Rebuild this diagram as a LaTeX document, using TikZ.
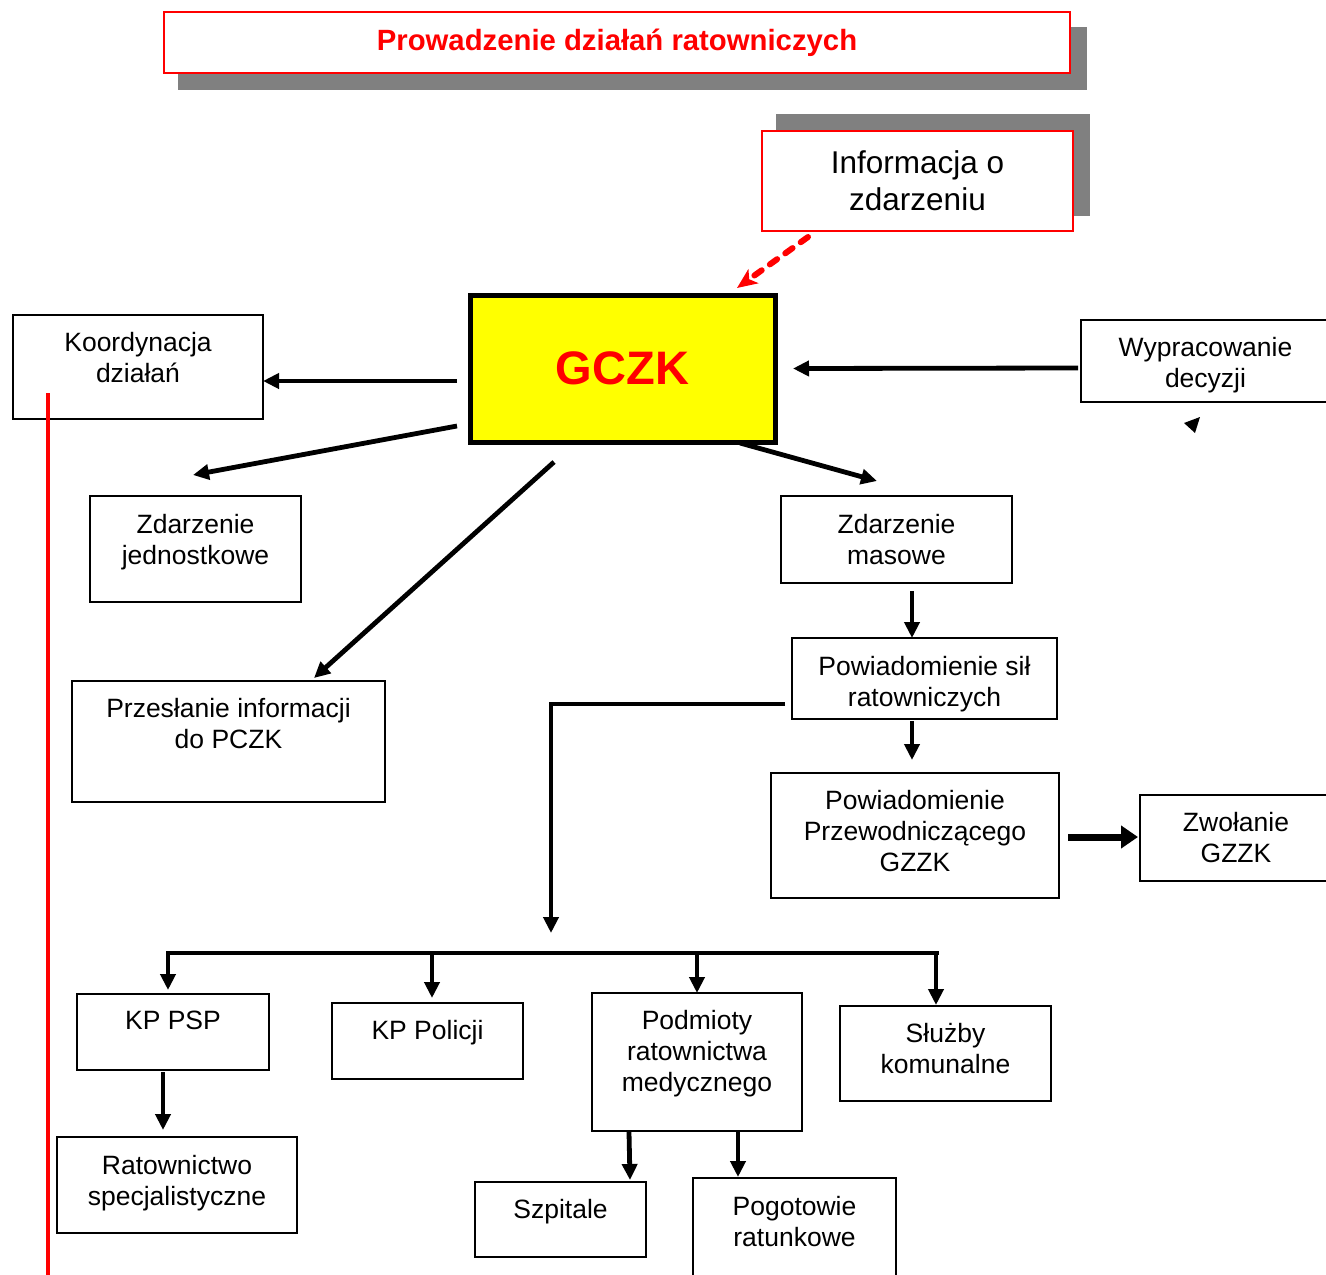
\documentclass[tikz,border=0pt]{standalone}
\usepackage{fontspec}
\setmainfont{Liberation Sans}
\usetikzlibrary{arrows.meta,calc}
\definecolor{alarmred}{HTML}{FF0000}
\definecolor{shadowgray}{HTML}{808080}
\definecolor{gczkyellow}{HTML}{FFFF00}

\begin{document}
\begin{tikzpicture}[x=1pt,y=-1pt,>={Triangle[length=16pt,width=15pt]},
  font=\fontsize{26.5}{31}\selectfont,
  box/.style={draw,line width=2.5pt,inner sep=0pt,outer sep=0pt},
  boxtext/.style={align=center,inner sep=0pt,anchor=north},
  redbox/.style={draw=alarmred,line width=2.5pt,fill=white,inner sep=0pt,outer sep=0pt},
  link/.style={->,line width=4.8pt}]
  \useasboundingbox (0,0) rectangle (1326,1275);
  \clip (0,0) rectangle (1326,1275);
  % shadows
  \fill[shadowgray] (178,27) rectangle (1087,90);
  \fill[shadowgray] (776,114) rectangle (1090,216);
  \node[redbox,minimum width=906pt,minimum height=61pt,text=alarmred,
    font=\fontsize{29.3}{33}\selectfont\bfseries] (title) at (617,42.5)
    {Prowadzenie działań ratowniczych};
  \node[redbox,minimum width=311pt,minimum height=100pt,align=center,
    font=\fontsize{31.5}{37}\selectfont] (info) at (917.5,181)
    {Informacja o\\zdarzeniu};
  \node[draw,line width=5pt,fill=gczkyellow,minimum width=305pt,minimum height=147pt,
    inner sep=0pt,outer sep=0pt,text=alarmred,font=\fontsize{47}{50}\selectfont\bfseries]
    (gczk) at (622.5,368.5) {GCZK};
  % plain boxes: name/left/top/right/bottom/text top/text
  \foreach \n/\xa/\ya/\xb/\yb/\ty/\lbl in {
    koord/13/315/263/419/332/{Koordynacja\\działań},
    wyprac/1081/320/1330/402/337/{Wypracowanie\\decyzji},
    jedn/90/496/301/602/514/{Zdarzenie\\jednostkowe},
    przes/72/681/385/802/698/{Przesłanie informacji\\do PCZK},
    masowe/781/496/1012/583/514/{Zdarzenie\\masowe},
    powsil/792/638/1057/719/656/{Powiadomienie sił\\ratowniczych},
    powprz/771/773/1059/898/790/{Powiadomienie\\Przewodniczącego\\GZZK},
    zwol/1140/795/1332/881/812/{Zwołanie\\GZZK},
    kppsp/77/994/269/1070/1011/{KP PSP},
    kppol/332/1003/523/1079/1020/{KP Policji},
    podm/592/993/802/1131/1010/{Podmioty\\ratownictwa\\medycznego},
    sluzby/840/1006/1051/1101/1023/{Służby\\komunalne},
    ratspec/57/1137/297/1233/1155/{Ratownictwo\\specjalistyczne},
    szpit/475/1182/646/1257/1199/{Szpitale},
    pogot/693/1178/896/1290/1196/{Pogotowie\\ratunkowe}}{
    \node[box,minimum width={(\xb-\xa)*1pt},minimum height={(\yb-\ya)*1pt}]
      (\n) at ({(\xa+\xb)/2},{(\ya+\yb)/2}) {};
    \node[boxtext] (\n-t) at ({(\xa+\xb)/2},\ty) {\lbl};
  }
  % connectors
  \draw[alarmred,line width=6pt,line cap=round,dash pattern=on 9pt off 10pt,
    -{Stealth[length=20pt,width=17pt,inset=5pt,line cap=butt]}]
    ($(info.south)+(-109.5,6)$) -- ($(gczk.north)+(114.5,-7)$);
  \draw[link] ($(gczk.west)+(-13,12.5)$) -- ($(koord.east)+(0,14)$);
  \draw[link] ($(wyprac.west)+(-3,7)$) -- ($(gczk.east)+(18,0)$);
  \draw[link] ($(gczk.west)+(-13,57.5)$) -- ($(jedn.north)+(-2.5,-21)$);
  \draw[link] ($(gczk.south)+(-68.5,20)$) -- ($(przes.north)+(85.5,-3)$);
  \draw[link] ($(gczk.south east)+(-35,1)$) -- ($(masowe.north)+(-19.5,-15)$);
  \draw[link] ($(masowe.south)+(15.5,8)$) -- ($(powsil.north)+(-12.5,0)$);
  \draw[link] ($(powsil.south)+(-12.5,2)$) -- ($(powprz.north)+(-3,-13)$);
  \draw[->,line width=7pt,>={Triangle[length=17pt,width=22pt]}]
    ($(powprz.east)+(9,1.5)$) -- ($(zwol.west)+(-2,-1)$);
  \coordinate (drop) at (551,933);
  \draw[link] ($(powsil.west)+(-7,25.5)$) -| (drop);
  \coordinate (busL) at (168,953);
  \coordinate (busR) at (937,953);
  \draw[line width=4.8pt,line cap=rect] (busL) -- (busR);
  \foreach \b/\dx/\gap in {kppsp/-5/4,kppol/4.5/5,podm/0/0,sluzby/-9.5/1}{
    \draw[link] ($(\b.north |- busL)+(\dx,0)$) -- ($(\b.north)+(\dx,-\gap)$);
  }
  \draw[link] ($(kppsp.south)+(-10,2)$) -- ($(ratspec.north)+(-14,-7)$);
  \draw[link] ($(podm.south)+(-68,1)$) -- ($(szpit.north)+(69.5,-2)$);
  \draw[link] ($(podm.south)+(41,-1)$) -- ($(pogot.north)+(-56.5,-1)$);
  % red side line and loose arrowhead
  \draw[alarmred,line width=4pt] (48,393) -- (48,1275);
  \fill (1184,423) -- (1200,417) -- (1195,433) -- cycle;
\end{tikzpicture}
\end{document}
